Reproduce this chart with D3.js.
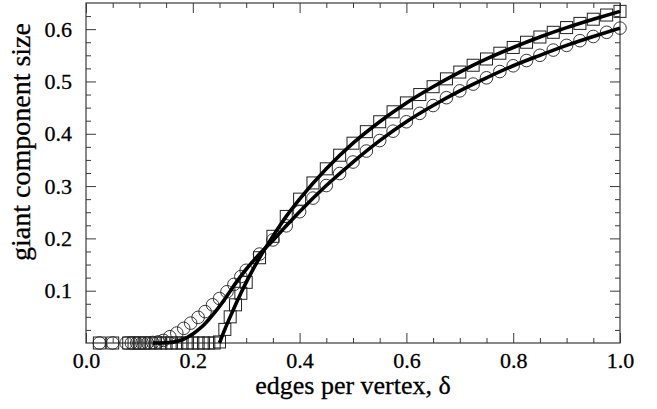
<!DOCTYPE html>
<html><head><meta charset="utf-8">
<script src="https://cdn.jsdelivr.net/npm/d3@7"></script>
<style>body{margin:0;background:#fff}svg{display:block}</style>
</head><body><svg id="c" width="657" height="409"></svg>
<script>
// ---- data ----
const squareDelta = [0.025,0.05,0.08,0.09,0.10,0.11,0.12,0.13,0.14,0.15,0.16,0.17,0.18,0.19,0.20,0.21,0.22,0.23,0.24,0.25,0.26,0.27,0.28,0.29,0.30,0.325,0.35,0.375,0.40,0.425,0.45,0.475,0.50,0.525,0.55,0.575,0.60,0.625,0.65,0.675,0.70,0.725,0.75,0.775,0.80,0.825,0.85,0.875,0.90,0.925,0.95,0.975,1.0];
const squareSize  = [0,0,0,0,0,0,0,0,0,0,0,0,0,0,0,0,0,0,0,0.002,0.026,0.050,0.073,0.095,0.116,0.163,0.204,0.242,0.275,0.306,0.333,0.359,0.382,0.404,0.423,0.442,0.459,0.475,0.490,0.505,0.518,0.531,0.543,0.554,0.565,0.575,0.585,0.594,0.603,0.611,0.619,0.627,0.634];
const circleDelta = [0.025,0.05,0.075,0.085,0.095,0.105,0.115,0.125,0.135,0.145,0.157,0.17,0.183,0.196,0.21,0.223,0.237,0.25,0.264,0.277,0.29,0.30,0.325,0.35,0.375,0.40,0.425,0.45,0.475,0.50,0.525,0.55,0.575,0.60,0.625,0.65,0.675,0.70,0.725,0.75,0.775,0.80,0.825,0.85,0.875,0.90,0.925,0.95,0.975,1.0];
const circleSize  = [0,0,0,0,0,0,0,0.001,0.002,0.005,0.012,0.019,0.028,0.038,0.049,0.060,0.073,0.085,0.098,0.112,0.127,0.139,0.170,0.197,0.224,0.251,0.277,0.301,0.324,0.346,0.367,0.387,0.405,0.423,0.439,0.454,0.469,0.482,0.495,0.507,0.519,0.530,0.540,0.550,0.560,0.569,0.578,0.586,0.594,0.602];
const staticLineDelta = [0.25,0.26,0.27,0.28,0.29,0.30,0.325,0.35,0.375,0.40,0.45,0.50,0.55,0.60,0.65,0.70,0.75,0.80,0.85,0.90,0.95,1.0];
const staticLineSize  = [0,0.026,0.050,0.073,0.095,0.116,0.163,0.204,0.242,0.275,0.333,0.382,0.423,0.459,0.490,0.518,0.543,0.565,0.585,0.603,0.619,0.634];
const grownLineDelta = [0.125,0.15,0.17,0.18,0.19,0.20,0.21,0.22,0.23,0.24,0.25,0.26,0.27,0.28,0.29,0.30,0.325,0.35,0.375,0.40,0.45,0.50,0.55,0.60,0.65,0.70,0.75,0.80,0.85,0.90,0.95,1.0];
const grownLineSize  = [0,0.0005,0.003,0.006,0.011,0.017,0.025,0.034,0.045,0.057,0.070,0.084,0.099,0.114,0.128,0.141,0.170,0.196,0.224,0.251,0.301,0.346,0.387,0.423,0.454,0.482,0.507,0.530,0.550,0.569,0.586,0.602];
const xMajorTicks = [0.0,0.2,0.4,0.6,0.8,1.0];
const xTickLabels = ["0.0","0.2","0.4","0.6","0.8","1.0"];
const yMajorTicks = [0.1,0.2,0.3,0.4,0.5,0.6];
const yTickLabels = ["0.1","0.2","0.3","0.4","0.5","0.6"];
const xTitle = "edges per vertex, δ";
const yTitle = "giant component size";

// ---- layout ----
const L = 86, R = 620, T = 3, B = 343;
const svg = d3.select("#c");
const x = d3.scaleLinear().domain([0,1]).range([L,R]);
const y = d3.scaleLinear().domain([0,0.65]).range([B,T]);
const axisColor = "#3a3a3a";
const FONT = '"Liberation Serif", "Times New Roman", serif';

const xMinor = d3.range(0,1.0001,0.05).filter(v => !xMajorTicks.some(m => Math.abs(m-v)<1e-6));
const yMinor = d3.range(0.025,0.65,0.025).filter(v => !yMajorTicks.some(m => Math.abs(m-v)<1e-6));

function styleAxis(g){
  g.select(".domain").remove();
  g.attr("font-family", null).attr("font-size", null);
  g.style("font-family", FONT).style("font-size", "22px");
  g.selectAll("line").attr("stroke", axisColor).attr("stroke-width", 1);
  g.selectAll("text").style("font-family", FONT).style("font-size", "22px")
    .attr("fill", "#000").attr("stroke", "#000").attr("stroke-width", 0.3);
}
function addAxis(axis, tx, ty){
  svg.append("g").attr("transform",`translate(${tx},${ty})`).call(axis).call(styleAxis);
}
function ticks(axisFn, scale, vals, size){
  return axisFn(scale).tickValues(vals).tickSize(size).tickFormat("");
}
addAxis(ticks(d3.axisBottom,x,xMinor,-5), 0, B);
addAxis(d3.axisBottom(x).tickValues(xMajorTicks).tickSize(-10).tickPadding(9).tickFormat((d,i)=>xTickLabels[i]), 0, B);
addAxis(ticks(d3.axisTop,x,xMinor,-5), 0, T);
addAxis(ticks(d3.axisTop,x,xMajorTicks,-10), 0, T);
addAxis(ticks(d3.axisLeft,y,yMinor,-5), L, 0);
addAxis(d3.axisLeft(y).tickValues(yMajorTicks).tickSize(-10).tickPadding(14).tickFormat((d,i)=>yTickLabels[i]), L, 0);
addAxis(ticks(d3.axisRight,y,yMinor,-5), R, 0);
addAxis(ticks(d3.axisRight,y,yMajorTicks,-10), R, 0);

svg.append("rect").attr("x",L).attr("y",T).attr("width",R-L).attr("height",B-T)
  .attr("fill","none").attr("stroke",axisColor).attr("stroke-width",1.2);

// markers
const sq = 12;
svg.append("g").selectAll("rect").data(squareDelta.map((d,i)=>[d,squareSize[i]])).join("rect")
  .attr("x",d=>x(d[0])-sq/2).attr("y",d=>y(d[1])-sq/2).attr("width",sq).attr("height",sq)
  .attr("fill","none").attr("stroke","#222").attr("stroke-width",1);
svg.append("g").selectAll("circle").data(circleDelta.map((d,i)=>[d,circleSize[i]])).join("circle")
  .attr("cx",d=>x(d[0])).attr("cy",d=>y(d[1])).attr("r",6.3)
  .attr("fill","none").attr("stroke","#222").attr("stroke-width",0.9);

// lines
const line = d3.line().x(d=>x(d[0])).y(d=>y(d[1])).curve(d3.curveMonotoneX);
svg.append("path").datum(staticLineDelta.map((d,i)=>[d,staticLineSize[i]]))
  .attr("d",line).attr("fill","none").attr("stroke","#000").attr("stroke-width",3.6);
svg.append("path").datum(grownLineDelta.map((d,i)=>[d,grownLineSize[i]]))
  .attr("d",line).attr("fill","none").attr("stroke","#000").attr("stroke-width",3.6);

// titles
svg.append("text").attr("x",(L+R)/2).attr("y",394).attr("text-anchor","middle")
  .style("font-family",FONT).style("font-size","26px").attr("stroke","#000").attr("stroke-width",0.3).text(xTitle);
svg.append("text").attr("transform",`translate(30,142) rotate(-90)`).attr("text-anchor","middle")
  .style("font-family",FONT).style("font-size","28px").attr("stroke","#000").attr("stroke-width",0.3).text(yTitle);
</script></body></html>
